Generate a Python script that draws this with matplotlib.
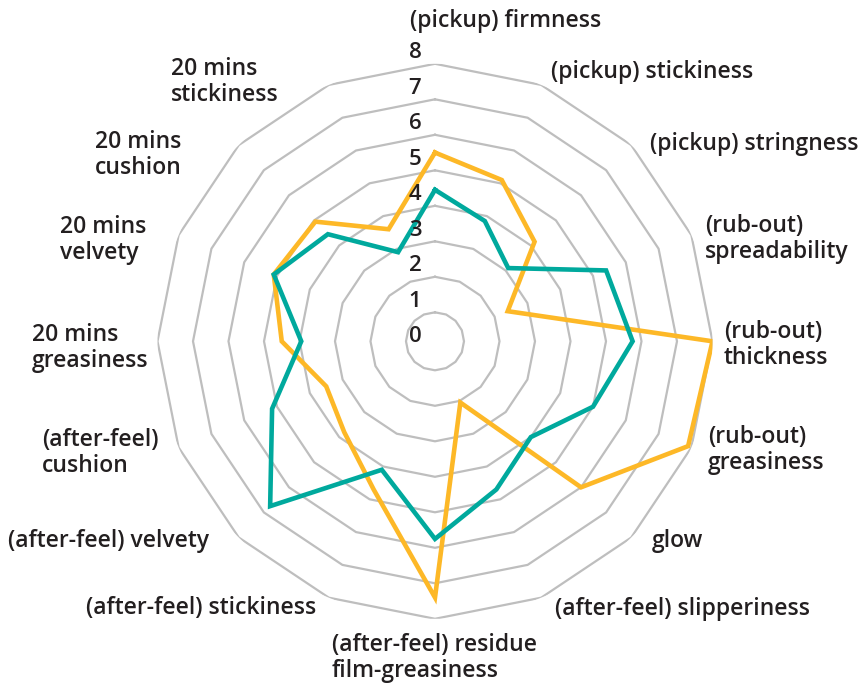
import numpy as np
import matplotlib
matplotlib.use("Agg")
import matplotlib.pyplot as plt

# categories, clockwise from the top
categories = [
    "(pickup) firmness", "(pickup) stickiness", "(pickup) stringness",
    "(rub-out)\nspreadability", "(rub-out)\nthickness", "(rub-out)\ngreasiness",
    "glow", "(after-feel) slipperiness", "(after-feel) residue\nfilm-greasiness",
    "(after-feel) stickiness", "(after-feel) velvety", "(after-feel)\ncushion",
    "20 mins\ngreasiness", "20 mins\nvelvety", "20 mins\ncushion", "20 mins\nstickiness",
]
orange_vals = [5.5, 5.1, 4.15, 2.4, 8.0, 7.9, 6.0, 2.05, 7.4, 4.7, 3.8, 3.5, 4.5, 5.1, 4.95, 3.6]
teal_vals = [4.45, 3.85, 3.1, 5.4, 5.75, 5.0, 4.0, 4.7, 5.75, 4.1, 6.75, 5.15, 3.95, 5.1, 4.45, 2.9]
ticks = [0, 1, 2, 3, 4, 5, 6, 7, 8]

# label anchors in pixels (left x, centre y of text block)
label_pos = [
    (410, 21), (551, 72), (650, 144),
    (705, 239), (724, 345), (708, 450),
    (652, 541), (555, 609), (332, 658),
    (86, 608), (8, 541), (42, 453),
    (32, 348), (60, 240), (95, 155), (171, 82),
]

W, H = 865, 684
plt.rcParams['font.family'] = ['Open Sans', 'DejaVu Sans']
fig = plt.figure(figsize=(W / 100, H / 100), dpi=100)

cx, cy, R = 435, 341.3, 277.5
ax = fig.add_axes([(cx - R) / W, (H - cy - R) / H, 2 * R / W, 2 * R / H], projection='polar')
ax.set_theta_zero_location('N')
ax.set_theta_direction(-1)
ax.set_ylim(0.183, 8)
ax.grid(False)
ax.set_xticks([])
ax.set_yticks([])
ax.spines['polar'].set_visible(False)

n = len(categories)
theta = np.linspace(0, 2 * np.pi, n, endpoint=False)
theta_c = np.append(theta, theta[0])

# polygon rings
for v in ticks[1:]:
    ax.plot(theta_c, [v] * (n + 1), color='#BEBEBE', lw=1.6, zorder=1)

ax.plot(theta_c, teal_vals + teal_vals[:1], color='#00A99D', lw=3.3, zorder=3,
        solid_joinstyle='miter')
ax.plot(theta_c, orange_vals + orange_vals[:1], color='#FDB827', lw=3.3, zorder=2,
        solid_joinstyle='miter')

txt = '#231F20'
for v in ticks:
    dy = 11 if v > 0 else 5
    ax.annotate(str(v), xy=(0, max(v, 0.183)), xytext=(-20, dy), textcoords='offset pixels',
                ha='center', va='center', fontsize=16, color=txt, fontweight='semibold')

for lab, (x, y) in zip(categories, label_pos):
    fig.text(x / W, 1 - y / H, lab, ha='left', va='center', fontsize=16.5, color=txt,
             fontweight='semibold', linespacing=1.1,
             transform=fig.transFigure)

fig.savefig('out.png', dpi=100)
